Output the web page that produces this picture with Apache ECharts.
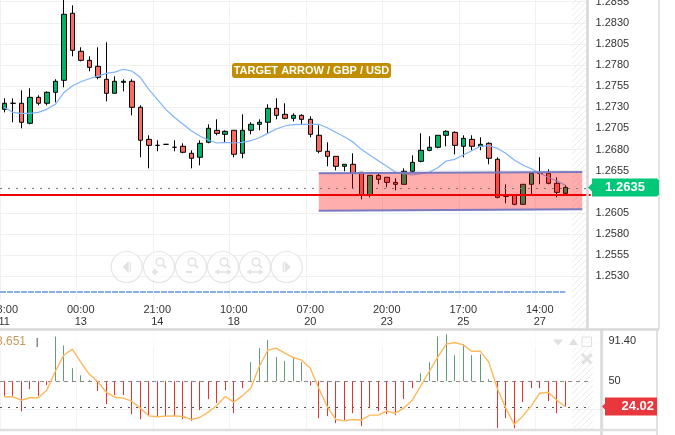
<!DOCTYPE html>
<html><head><meta charset="utf-8">
<style>html,body{margin:0;padding:0;background:#fff}#c{width:675px;height:435px}</style>
<script src="https://cdn.jsdelivr.net/npm/echarts@6/dist/echarts.min.js"></script>
</head><body><div id="c"></div>
<script>
const opens=[1.27276,1.27348,1.27348,1.27111,1.27418,1.27348,1.27478,1.27620,1.28413,1.27963,1.27856,1.27785,1.27632,1.27466,1.27596,1.27608,1.27300,1.26921,1.26850,1.26862,1.26827,1.26839,1.26756,1.26709,1.26886,1.27028,1.26981,1.27028,1.26756,1.27028,1.27099,1.27123,1.27288,1.27217,1.27170,1.27205,1.27158,1.26969,1.26780,1.26720,1.26602,1.26626,1.26531,1.26259,1.26495,1.26472,1.26412,1.26389,1.26543,1.26661,1.26791,1.26827,1.26969,1.27004,1.26839,1.26921,1.26839,1.26874,1.26685,1.26247,1.26259,1.26152,1.26389,1.26519,1.26519,1.26401,1.26282];
const closes=[1.27348,1.27348,1.27123,1.27418,1.27348,1.27478,1.27608,1.28401,1.27975,1.27856,1.27773,1.27655,1.27466,1.27608,1.27608,1.27300,1.26910,1.26850,1.26850,1.26862,1.26827,1.26768,1.26697,1.26874,1.27052,1.26992,1.27016,1.26744,1.27028,1.27099,1.27123,1.27288,1.27205,1.27170,1.27205,1.27158,1.26981,1.26780,1.26720,1.26602,1.26626,1.26519,1.26259,1.26495,1.26448,1.26412,1.26389,1.26543,1.26649,1.26791,1.26827,1.26969,1.27016,1.26850,1.26933,1.26839,1.26862,1.26697,1.26235,1.26247,1.26152,1.26389,1.26519,1.26519,1.26401,1.26294,1.26353];
const lows=[1.27241,1.27123,1.27052,1.27099,1.27324,1.27324,1.27359,1.27537,1.27904,1.27844,1.27726,1.27632,1.27371,1.27466,1.27489,1.27205,1.26709,1.26578,1.26780,1.26862,1.26780,1.26756,1.26578,1.26614,1.26874,1.26969,1.26886,1.26709,1.26697,1.26981,1.27028,1.26992,1.27158,1.27158,1.27134,1.27099,1.26945,1.26756,1.26602,1.26554,1.26543,1.26341,1.26211,1.26235,1.26389,1.26353,1.26318,1.26389,1.26531,1.26649,1.26780,1.26815,1.26839,1.26744,1.26709,1.26791,1.26791,1.26626,1.26223,1.26164,1.26140,1.26152,1.26270,1.26389,1.26389,1.26235,1.26270];
const highs=[1.27407,1.27407,1.27501,1.27525,1.27442,1.27489,1.27632,1.28661,1.28507,1.28010,1.27904,1.28010,1.28069,1.27667,1.27632,1.27632,1.27324,1.26969,1.26910,1.26862,1.26910,1.26874,1.26791,1.26910,1.27099,1.27158,1.27028,1.27028,1.27217,1.27123,1.27158,1.27336,1.27407,1.27348,1.27229,1.27217,1.27194,1.27087,1.26886,1.26720,1.26626,1.26756,1.26531,1.26495,1.26531,1.26472,1.26460,1.26578,1.26732,1.26992,1.26957,1.26969,1.27028,1.27016,1.26969,1.26969,1.26945,1.26886,1.26709,1.26389,1.26259,1.26389,1.26531,1.26709,1.26566,1.26472,1.26377];
const movingAverage=[1.27300,1.27241,1.27229,1.27229,1.27241,1.27276,1.27336,1.27473,1.27552,1.27603,1.27638,1.27670,1.27702,1.27717,1.27750,1.27730,1.27655,1.27513,1.27395,1.27276,1.27182,1.27103,1.27023,1.26960,1.26913,1.26878,1.26886,1.26878,1.26886,1.26905,1.26940,1.26992,1.27044,1.27079,1.27095,1.27099,1.27099,1.27099,1.27058,1.27004,1.26952,1.26893,1.26803,1.26736,1.26669,1.26602,1.26535,1.26514,1.26499,1.26514,1.26531,1.26586,1.26665,1.26685,1.26736,1.26787,1.26839,1.26846,1.26815,1.26756,1.26677,1.26618,1.26574,1.26519,1.26472,1.26428,1.26377];
const oscBars=[35,35,19,41.8,35,46,95.7,86.5,63.3,56,51,39.8,26.5,35.7,35.7,16.2,11,14.2,14.2,14.2,14.2,11,9.4,20.3,31.6,27.5,40.8,17.2,42.8,69.5,83.8,92.3,74.6,70.5,74.6,69.5,45.6,12.1,14.2,7,10,17.2,3.9,22.4,19.3,16.2,15.2,31.6,42.8,58.2,69.5,95.7,98.1,76.6,87.9,76.6,77.6,52,1.9,12.1,1.9,28.5,42.8,42.8,29.5,17.2,24];
const oscLine=[34,34,30.5,33,33,40.8,59.9,76.6,82.8,69.5,57.2,49.7,38.7,33.6,32.6,29.5,22.4,14.5,13.5,14.2,14.5,13.8,10.8,12.8,18.3,25.1,34.3,28.5,35,42.8,65,81.7,83.8,78.7,74.2,71.5,63.3,42.8,24,10.8,9.4,10.8,10,15.2,15.2,19.3,17.2,22.4,30.5,45.2,59.9,74.6,87.9,89.6,87.2,80.7,80.7,69.5,42.8,22.4,5.6,14.2,24.7,37.7,38.7,30.5,24.02];
const timeTicks=["03:00\n11","00:00\n13","21:00\n14","10:00\n18","07:00\n20","20:00\n23","17:00\n25","14:00\n27"];
const priceTicks=[1.2530,1.2555,1.2580,1.2605,1.2655,1.2680,1.2705,1.2730,1.2755,1.2780,1.2805,1.2830,1.2855];
const oscTickLabels=[50,91.40];
const oscGrid=[21,90];
const bandPrices=[37,1.26519,68,1.26535,1.26093,1.26076];
const srLevel=1.26265, lastPrice=1.2635, blueLevel=1.2511, oscLevel=50, oscLast=24.02;
const titleText="TARGET ARROW / GBP / USD", oscName="38.651";

const cats=new Array(69).fill('').map((_, i)=>i%9===0&&timeTicks[i/9]?timeTicks[i/9]:'');
const cats2=cats.concat(['','']);

const hatch=document.createElement('canvas');hatch.width=hatch.height=6;
const hc=hatch.getContext('2d');hc.strokeStyle='#ececec';hc.lineWidth=1;
hc.beginPath();hc.moveTo(-1,7);hc.lineTo(7,-1);hc.moveTo(-1,1);hc.lineTo(1,-1);hc.moveTo(5,7);hc.lineTo(7,5);hc.stroke();
const hatchFill={image:hatch,repeat:'repeat'};

function hseg(x0,x1,v,style,z){ // horizontal level drawn through the axes
  return {type:'custom',xAxisIndex:style.ax,yAxisIndex:style.ax,z:z,silent:true,clip:false,data:[[x0,v,x1]],encode:{x:0,y:1},
    renderItem(p,api){const a=api.coord([api.value(0),api.value(1)]),b=api.coord([api.value(2),api.value(1)]);
      const half=api.size([1,0])[0]/2;
      const y=style.w%2?Math.round(a[1])+0.5:Math.round(a[1]);
      return {type:'line',shape:{x1:a[0]-(style.fromEdge?half:0),y1:y,x2:b[0],y2:y},style:{stroke:style.color,lineWidth:style.w,lineDash:style.dash||null}};}};
}
const chart=echarts.init(document.getElementById('c'),null,{renderer:'canvas'});
const axisFont={fontFamily:'Arial, "Liberation Sans", sans-serif',fontSize:11,color:'#333'};
chart.setOption({
  animation:false,backgroundColor:'#fff',
  grid:[{left:0,top:0,width:586.5,height:300,outerBoundsMode:'none',containLabel:false},{left:0,top:330,width:603.5,height:100,outerBoundsMode:'none',containLabel:false}],
  xAxis:[
    {type:'category',gridIndex:0,data:cats,boundaryGap:true,axisLine:{show:false},axisTick:{show:false},
     axisLabel:Object.assign({interval:8,lineHeight:12,margin:4,showMinLabel:true,hideOverlap:false},axisFont),
     splitLine:{show:true,interval:8,lineStyle:{color:'#f1f1f1',width:1}}},
    {type:'category',gridIndex:1,data:cats2,boundaryGap:true,axisLine:{show:false},axisTick:{show:false},axisLabel:{show:false},
     splitLine:{show:true,interval:8,lineStyle:{color:'#f4f4f4',width:1}}}
  ],
  yAxis:[
    {type:'value',gridIndex:0,position:'right',min:1.25020,max:1.28570,axisLine:{show:false},
     axisTick:{show:false,customValues:priceTicks},
     axisLabel:Object.assign({customValues:priceTicks,margin:9,padding:[0,0,4,0],formatter:v=>v.toFixed(4)},axisFont),
     splitLine:{show:true,lineStyle:{color:'#f0f0f0',width:1}}},
    {type:'value',gridIndex:1,position:'right',min:0,max:102.4,axisLine:{show:false},
     axisTick:{show:false,customValues:oscGrid},
     axisLabel:Object.assign({customValues:oscTickLabels,margin:5,formatter:v=>v===50?'50':v.toFixed(2)},axisFont),
     splitLine:{show:true,lineStyle:{color:'#f2f2f2',width:1}}}
  ],
  series:[
    {type:'candlestick',xAxisIndex:0,yAxisIndex:0,z:3,barWidth:5,
     data:opens.map((o,i)=>[o,closes[i],lows[i],highs[i]]),
     itemStyle:{color:'#00b36b',color0:'#ff6a5f',borderColor:'#000',borderColor0:'#000',borderColorDoji:'#000',borderWidth:1}},
    {type:'line',xAxisIndex:0,yAxisIndex:0,z:4,data:movingAverage,symbol:'none',lineStyle:{color:'#80b3ff',width:1.2}},
    {type:'custom',xAxisIndex:0,yAxisIndex:0,z:5,silent:true,clip:false,data:[bandPrices],encode:{x:0,y:1},
     renderItem(p,api){
       const tl=api.coord([api.value(0),api.value(1)]),tr=api.coord([api.value(2),api.value(3)]),
             br=api.coord([api.value(2),api.value(4)]),bl=api.coord([api.value(0),api.value(5)]);
       return {type:'group',children:[
         {type:'polygon',shape:{points:[tl,tr,br,bl]},style:{fill:'rgba(255,0,0,0.32)'}},
         {type:'line',shape:{x1:tl[0],y1:tl[1],x2:tr[0],y2:tr[1]},style:{stroke:'#7a7ac0',lineWidth:2}},
         {type:'line',shape:{x1:bl[0],y1:bl[1],x2:br[0],y2:br[1]},style:{stroke:'#7a7ac0',lineWidth:2}}]};
     }},
    hseg(0,68.5,lastPrice,{ax:0,color:'#777',w:1,dash:[2,6],fromEdge:true},6),
    hseg(0,68.5,srLevel,{ax:0,color:'#f00000',w:2,fromEdge:true},6),
    hseg(0,66,blueLevel,{ax:0,color:'#8aaee6',w:2,dash:[6,1],fromEdge:true},6),
    hseg(0,69,oscLevel,{ax:1,color:'#888',w:1,dash:[4,4],fromEdge:true},2),
    hseg(0,69,oscLast,{ax:1,color:'#555',w:1,dash:[2,6],fromEdge:true},2),
    {type:'custom',xAxisIndex:1,yAxisIndex:1,z:3,silent:true,data:oscBars.map((v,i)=>[i,v]),encode:{x:0,y:1},
     renderItem(p,api){
       const v=api.value(1),a=api.coord([api.value(0),oscLevel]),b=api.coord([api.value(0),v]);
       const x=Math.floor(a[0])+0.5;
       return {type:'line',shape:{x1:x,y1:a[1],x2:x,y2:b[1]},style:{stroke:v>=oscLevel?'#5f9e78':'#e8322f',lineWidth:1}};
     }},
    {type:'line',xAxisIndex:1,yAxisIndex:1,z:4,data:oscLine,symbol:'none',lineStyle:{color:'#ffb85c',width:1.4}},
    {type:'line',xAxisIndex:1,yAxisIndex:1,z:5,data:[],markArea:{silent:true,itemStyle:{color:'rgba(255,255,255,0.65)'},data:[[{yAxis:84},{yAxis:102.4}]]}}
  ]
});

const g=[];
const line=(x1,y1,x2,y2,w,c,z)=>({type:'line',z:z||20,silent:true,shape:{x1,y1,x2,y2},style:{stroke:c,lineWidth:w}});
// hatching at the right of each pane
g.push({type:'rect',z:0,silent:true,shape:{x:572,y:0,width:15,height:328},style:{fill:hatchFill}});
g.push({type:'rect',z:0,silent:true,shape:{x:572,y:331,width:21,height:98},style:{fill:hatchFill}});
// pane frames
g.push(line(587.5,0,587.5,329,2.5,'#d8d8d8'),line(659,0,659,329,1.5,'#d8d8d8'),line(0,329.5,659,329.5,2.5,'#d8d8d8'),
       line(601.5,329,601.5,435,2.5,'#d8d8d8'),line(657,329,657,435,1.5,'#d8d8d8'),line(0,430,657,430,2.5,'#e0e0e0'));
// title label
g.push({type:'rect',z:20,silent:true,shape:{x:232,y:63,width:159,height:15,r:3},style:{fill:'#c08e00'}});
g.push({type:'text',z:21,silent:true,style:{x:311.5,y:70.5,text:titleText,fill:'#fff',align:'center',verticalAlign:'middle',font:'bold 11px Arial, "Liberation Sans", sans-serif'}});
// oscillator name
g.push({type:'text',z:21,silent:true,style:{x:26,y:342,text:oscName,fill:'#c89a5a',align:'right',verticalAlign:'middle',font:'12px Arial, "Liberation Sans", sans-serif'}});
g.push({type:'rect',z:21,silent:true,shape:{x:36.5,y:338,width:1.5,height:9},style:{fill:'#888'}});
// price and oscillator tags
const py=chart.convertToPixel({yAxisIndex:0},lastPrice);
g.push({type:'polygon',z:22,silent:true,shape:{points:[[588,py],[592,py-4],[592,py-9],[594,py-9],[657,py-9],[659,py-7],[659,py+7],[657,py+9],[594,py+9],[592,py+9],[592,py+4]]},style:{fill:'#00c878'}});
g.push({type:'text',z:23,silent:true,style:{x:625,y:py,text:lastPrice.toFixed(4),fill:'#fff',align:'center',verticalAlign:'middle',font:'bold 13px Arial, "Liberation Sans", sans-serif'}});
const oy=chart.convertToPixel({yAxisIndex:1},oscLast);
g.push({type:'polygon',z:22,silent:true,shape:{points:[[602,oy],[605,oy-3],[605,oy-9],[657,oy-9],[657,oy+9],[605,oy+9],[605,oy+3]]},style:{fill:'#e8383d'}});
g.push({type:'text',z:23,silent:true,style:{x:654,y:oy,text:oscLast.toFixed(2),fill:'#fff',align:'right',verticalAlign:'middle',font:'bold 13px Arial, "Liberation Sans", sans-serif'}});
// nav buttons
const navC='#e6e6e6',navF='#e2e2e2',ny=267;
[126.7,159,191,223,255,286.7].forEach((cx,i)=>{
  g.push({type:'circle',z:9,silent:true,shape:{cx,cy:ny,r:15.5},style:{fill:'rgba(255,255,255,0.5)',stroke:navC,lineWidth:1.2}});
  if(i===0){g.push({type:'polygon',z:9,silent:true,shape:{points:[[cx-4,ny],[cx+2,ny-6],[cx+2,ny+6]]},style:{fill:navF}},{type:'rect',z:9,silent:true,shape:{x:cx+3,y:ny-5,width:1.2,height:10},style:{fill:navF}});}
  else if(i===5){g.push({type:'polygon',z:9,silent:true,shape:{points:[[cx+4,ny],[cx-2,ny-6],[cx-2,ny+6]]},style:{fill:navF}},{type:'rect',z:9,silent:true,shape:{x:cx-4,y:ny-5,width:1.2,height:10},style:{fill:navF}});}
  else{
    g.push({type:'circle',z:9,silent:true,shape:{cx:cx+1,cy:ny-5,r:3.8},style:{fill:'none',stroke:navF,lineWidth:1.5}},
           {type:'line',z:9,silent:true,shape:{x1:cx+4,y1:ny-2,x2:cx+7,y2:ny+1},style:{stroke:navF,lineWidth:2}});
    if(i===1){g.push({type:'line',z:9,silent:true,shape:{x1:cx-7,y1:ny+5,x2:cx-1,y2:ny+5},style:{stroke:navF,lineWidth:2}},{type:'line',z:9,silent:true,shape:{x1:cx-4,y1:ny+2,x2:cx-4,y2:ny+8},style:{stroke:navF,lineWidth:2}});}
    if(i===2){g.push({type:'line',z:9,silent:true,shape:{x1:cx-5,y1:ny+5,x2:cx+1,y2:ny+5},style:{stroke:navF,lineWidth:2}});}
    if(i===3||i===4){g.push({type:'line',z:9,silent:true,shape:{x1:cx-8,y1:ny+5,x2:cx+8,y2:ny+5},style:{stroke:navF,lineWidth:1.5}},
      {type:'polygon',z:9,silent:true,shape:{points:[[cx-8,ny+5],[cx-4,ny+2],[cx-4,ny+8]]},style:{fill:navF}},
      {type:'polygon',z:9,silent:true,shape:{points:[[cx+8,ny+5],[cx+4,ny+2],[cx+4,ny+8]]},style:{fill:navF}});}
  }
});
// pane tool icons
const ic='#e0e0e0';
g.push({type:'polygon',z:24,silent:true,shape:{points:[[553,339.5],[563,339.5],[558,345.5]]},style:{fill:ic}});
g.push({type:'polygon',z:24,silent:true,shape:{points:[[569,345],[578,345],[573.5,338.5]]},style:{fill:ic}});
g.push({type:'rect',z:24,silent:true,shape:{x:582,y:337,width:9.5,height:9.5},style:{fill:'none',stroke:ic,lineWidth:1}});
g.push(line(582,354,591.5,363.5,2.5,ic,24),line(591.5,354,582,363.5,2.5,ic,24));
chart.setOption({graphic:{elements:g}});
</script></body></html>
